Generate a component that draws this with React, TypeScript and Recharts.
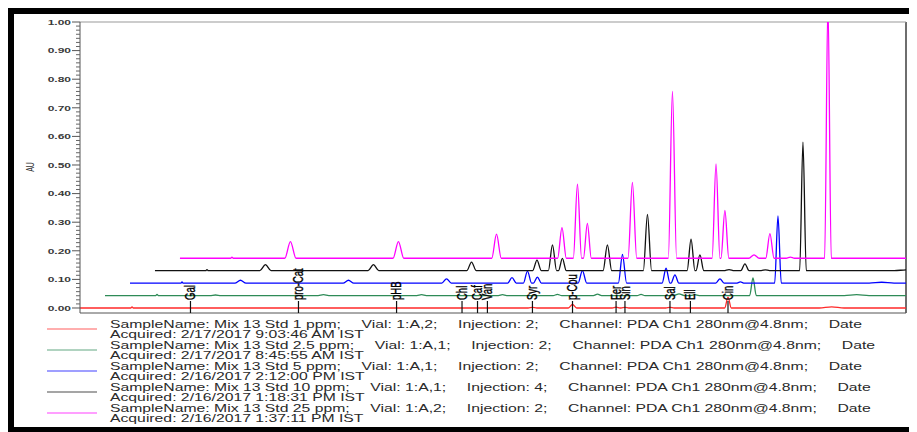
import React from 'react';
import { LineChart, Line, XAxis, YAxis, ReferenceLine, Customized } from 'recharts';

// ---- Data ----
const COMPOUNDS = ['', 'Gal', 'pro-Cat', 'pHB', 'Chl', 'Caf', 'Van', 'Syr', 'p-Cou', 'Fer', 'Sin', '', 'Sal', 'Ell', 'Cin', ''];
const RET_TIMES = [2.52, 5.35, 10.58, 15.33, 18.5, 19.25, 19.73, 21.91, 23.85, 25.96, 26.39, 27.8, 28.57, 29.56, 31.38, 36.4];
const HALF_WIDTHS = [0.06, 0.27, 0.26, 0.23, 0.21, 0.2, 0.19, 0.21, 0.2, 0.19, 0.19, 0.25, 0.2, 0.2, 0.16, 0.6];

const STD_1PPM = [0.004, 0, 0, 0, 0, 0, 0, 0.002, 0.013, 0.003, 0.002, 0, 0.002, 0, 0.038, 0.004];
const STD_2_5PPM = [0.004, 0.002, 0.003, 0.003, 0, 0.003, 0, 0.004, 0.005, 0.004, 0, 0.006, 0.003, 0, 0.062, 0.003];
const STD_5PPM = [0.004, 0.01, 0.01, 0.015, 0.019, 0.042, 0.021, 0.044, 0.1, 0.052, 0.029, 0, 0.015, 0.004, 0.235, 0.003];
const STD_10PPM = [0.004, 0.021, 0.021, 0.03, 0.037, 0.09, 0.043, 0.09, 0.197, 0.11, 0.055, 0.004, 0.024, 0.003, 0.449, 0.003];
const STD_25PPM = [0.004, 0.058, 0.058, 0.084, 0.107, 0.259, 0.122, 0.265, 0.583, 0.33, 0.167, 0.012, 0.086, 0.004, 0.9, 0.004];

const SERIES = [STD_1PPM, STD_2_5PPM, STD_5PPM, STD_10PPM, STD_25PPM];
const X_OFFSETS = [0, 1.21, 2.42, 3.63, 4.84];
const Y_OFFSETS = [0, 0.0435, 0.087, 0.1305, 0.174];
const COLORS = ['#ff2a2a', '#2e8b57', '#0000ff', '#111111', '#ff00ff'];
const RUN_END = 40;

const Y_MAJOR = [0, 0.1, 0.2, 0.3, 0.4, 0.5, 0.6, 0.7, 0.8, 0.9, 1.0];
const Y_LABELS = ['0.00', '0.10', '0.20', '0.30', '0.40', '0.50', '0.60', '0.70', '0.80', '0.90', '1.00'];
const Y_MINOR_PER_MAJOR = 7;

const SAMPLE_NAMES = ['Mix 13 Std 1 ppm', 'Mix 13 Std 2.5 ppm', 'Mix 13 Std 5 ppm', 'Mix 13 Std 10 ppm', 'Mix 13 Std 25 ppm'];
const VIALS = ['1:A,2', '1:A,1', '1:A,1', '1:A,1', '1:A,2'];
const INJECTIONS = ['2', '2', '2', '4', '2'];
const CHANNEL = 'PDA Ch1 280nm@4.8nm';
const ACQUIRED = ['2/17/2017 9:03:46 AM IST', '2/17/2017 8:45:55 AM IST', '2/16/2017 2:12:00 PM IST', '2/16/2017 1:18:31 PM IST', '2/16/2017 1:37:11 PM IST'];

// ---- Build traces ----
function buildTrace(heights: number[], dx: number, dy: number) {
  const pts: { t: number; v: number }[] = [{ t: dx, v: dy }];
  heights.forEach((h, i) => {
    if (h <= 0) return;
    const c = RET_TIMES[i] + dx;
    const w = HALF_WIDTHS[i];
    pts.push({ t: c - w, v: dy });
    pts.push({ t: c, v: dy + h });
    pts.push({ t: c + w, v: dy });
  });
  pts.push({ t: RUN_END, v: dy });
  return pts;
}
const TRACES = SERIES.map((s, i) => buildTrace(s, X_OFFSETS[i], Y_OFFSETS[i]));

const yTicks: number[] = [];
for (let k = 0; k < Y_MAJOR.length - 1; k++) {
  for (let j = 0; j < Y_MINOR_PER_MAJOR; j++) {
    yTicks.push(Number((Y_MAJOR[k] + (j * (Y_MAJOR[k + 1] - Y_MAJOR[k])) / Y_MINOR_PER_MAJOR).toFixed(5)));
  }
}
yTicks.push(1.0);

const LABELLED_TIMES = RET_TIMES.filter((_, i) => COMPOUNDS[i] !== '');
const LABELLED_NAMES = COMPOUNDS.filter((n) => n !== '');

const FONT = '"Liberation Sans", Arial, sans-serif';
const SX = 1.5;

const YTick = (props: any) => {
  const { x, y, payload } = props;
  const v = payload.value;
  const idx = Y_MAJOR.findIndex((m) => Math.abs(m - v) < 1e-4);
  if (idx >= 0) {
    return (
      <g>
        <line x1={x - 8} x2={x} y1={y} y2={y} stroke="#555" strokeWidth={1} />
        <text
          transform={`translate(${x - 9},${y}) scale(${SX},1)`}
          textAnchor="end"
          dominantBaseline="central"
          fontSize={8}
          fontWeight="bold"
          fill="#3a3a3a"
          fontFamily={FONT}
        >
          {Y_LABELS[idx]}
        </text>
      </g>
    );
  }
  return <line x1={x - 4} x2={x} y1={y} y2={y} stroke="#666" strokeWidth={1} />;
};

const XTick = (props: any) => {
  const { x, y, payload } = props;
  const idx = LABELLED_TIMES.findIndex((t) => Math.abs(t - payload.value) < 1e-6);
  const name = idx >= 0 ? LABELLED_NAMES[idx] : '';
  return (
    <g>
      <line x1={x} x2={x} y1={y - 12} y2={y} stroke="#111" strokeWidth={1.2} />
      <text
        transform={`translate(${x},${y - 13}) scale(${SX},1) rotate(-90)`}
        textAnchor="start"
        dominantBaseline="central"
        fontSize={9.5}
        fill="#000"
        stroke="#000"
        strokeWidth={0.25}
        fontFamily={FONT}
      >
        {name}
      </text>
    </g>
  );
};

const Extras = () => {
  const rows = SAMPLE_NAMES.map((s, i) => {
    const y0 = 316 + 21 * i;
    return (
      <g key={i}>
        <line x1={39} x2={89} y1={y0 + 5} y2={y0 + 5} stroke={COLORS[i]} strokeOpacity={0.5} strokeWidth={1.3} />
        <text
          transform={`translate(102,${y0}) scale(1.53,1)`}
          dominantBaseline="central"
          fontSize={10.3}
          fill="#2a2a2a"
          fontFamily={FONT}
        >
          <tspan>{`SampleName: ${s};`}</tspan>
          <tspan dx={13.5}>{`Vial: ${VIALS[i]};`}</tspan>
          <tspan dx={13.5}>{`Injection: ${INJECTIONS[i]};`}</tspan>
          <tspan dx={13.5}>{`Channel: ${CHANNEL};`}</tspan>
          <tspan dx={13.5}>Date</tspan>
        </text>
        <text
          transform={`translate(102,${y0 + 10.5}) scale(1.53,1)`}
          dominantBaseline="central"
          fontSize={10.3}
          fill="#2a2a2a"
          fontFamily={FONT}
        >
          {`Acquired: ${ACQUIRED[i]}`}
        </text>
      </g>
    );
  });
  return (
    <g>
      <text
        transform={`translate(22,159) scale(${SX},1) rotate(-90)`}
        textAnchor="middle"
        dominantBaseline="central"
        fontSize={7}
        fill="#333"
        fontFamily={FONT}
      >
        AU
      </text>
      {rows}
    </g>
  );
};

export default function App() {
  return (
    <div style={{ position: 'relative', width: 909, height: 424, background: '#fff' }}>
      <div
        style={{
          position: 'absolute',
          left: -1,
          top: -1,
          width: 910,
          height: 425,
          boxSizing: 'border-box',
          borderTop: '7px solid #000',
          borderLeft: '7px solid #000',
          borderBottom: '5px solid #000',
        }}
      />
      <div
        style={{
          position: 'absolute',
          left: 897,
          top: 14,
          width: 2,
          height: 291,
          background: '#6e6e6e',
        }}
      />
      <div style={{ position: 'absolute', left: 0, top: 0 }}>
        <LineChart width={909} height={424} margin={{ top: 14, right: 11, bottom: 116, left: 0 }}>
          <XAxis
            dataKey="t"
            type="number"
            domain={[0, RUN_END]}
            ticks={LABELLED_TIMES}
            interval={0}
            height={3}
            tickSize={0}
            tickMargin={0}
            tickLine={false}
            tick={<XTick />}
            axisLine={{ stroke: '#555', strokeWidth: 1 }}
            allowDataOverflow
          />
          <YAxis
            type="number"
            domain={[-0.0175, 1.0]}
            ticks={yTicks}
            interval={0}
            width={72}
            tickSize={0}
            tickMargin={0}
            tickLine={false}
            tick={<YTick />}
            axisLine={{ stroke: '#555', strokeWidth: 1 }}
            allowDataOverflow
          />
          <ReferenceLine y={1.0} stroke="#999" strokeWidth={1} ifOverflow="visible" />
          {TRACES.map((d, i) => (
            <Line
              key={i}
              data={d}
              dataKey="v"
              type="monotone"
              stroke={COLORS[i]}
              strokeWidth={1.3}
              dot={false}
              activeDot={false}
              isAnimationActive={false}
            />
          ))}
          <Customized component={<Extras />} />
        </LineChart>
      </div>
    </div>
  );
}
